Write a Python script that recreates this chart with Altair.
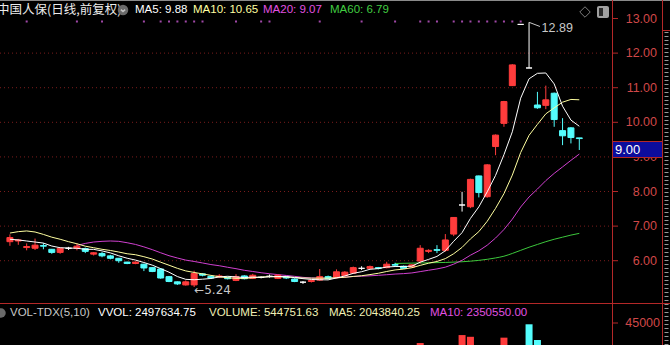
import altair as alt
import pandas as pd

# ---------------- data ----------------
STOCK_TITLE = "中国人保(日线,前复权)"
MA_LABELS = ["MA5: 9.88", "MA10: 10.65", "MA20: 9.07", "MA60: 6.79"]
VOL_LABELS = ["VOL-TDX(5,10)", "VVOL: 2497634.75", "VOLUME: 544751.63",
              "MA5: 2043840.25", "MA10: 2350550.00"]

OPEN = [6.55, 6.57, 6.38, 6.36, 6.44, 6.33, 6.24, 6.36, 6.36, 6.35,
        6.19, 6.21, 6.14, 6.07, 5.96, 5.92, 5.90, 5.80, 5.76, 5.54,
        5.39, 5.30, 5.30, 5.62, 5.55, 5.53, 5.52, 5.43, 5.56, 5.49,
        5.52, 5.55, 5.49, 5.53, 5.47, 5.38, 5.40, 5.44, 5.54, 5.51,
        5.57, 5.64, 5.78, 5.78, 5.80, 5.80, 5.89, 5.84, 5.82, 5.99,
        6.27, 6.32, 6.30, 6.77, 7.61, 7.56, 8.45, 7.85, 9.30, 9.97,
        11.06, 12.83, 11.57, 10.50, 10.49, 10.84, 9.76, 9.84, 9.55]
HIGH = [6.76, 6.63, 6.50, 6.64, 6.51, 6.34, 6.37, 6.40, 6.50, 6.38,
        6.25, 6.25, 6.17, 6.08, 5.97, 5.98, 5.91, 5.82, 5.78, 5.56,
        5.40, 5.43, 5.71, 5.64, 5.57, 5.61, 5.54, 5.61, 5.58, 5.62,
        5.55, 5.60, 5.60, 5.55, 5.49, 5.41, 5.45, 5.76, 5.57, 5.75,
        5.70, 5.83, 5.84, 5.86, 5.82, 5.97, 5.94, 5.86, 5.90, 6.45,
        6.33, 6.45, 6.77, 7.26, 7.99, 8.37, 8.46, 8.79, 9.65, 10.62,
        11.68, 12.83, 12.89, 10.88, 11.06, 10.86, 10.12, 9.86, 9.55]
LOW = [6.43, 6.46, 6.30, 6.31, 6.33, 6.20, 6.20, 6.31, 6.30, 6.22,
       6.15, 6.10, 6.04, 5.94, 5.90, 5.90, 5.70, 5.67, 5.48, 5.38,
       5.30, 5.28, 5.24, 5.55, 5.47, 5.50, 5.46, 5.41, 5.46, 5.47,
       5.49, 5.51, 5.47, 5.47, 5.38, 5.33, 5.37, 5.42, 5.46, 5.49,
       5.52, 5.62, 5.73, 5.76, 5.75, 5.78, 5.84, 5.76, 5.80, 5.92,
       6.22, 6.22, 6.26, 6.71, 7.42, 7.52, 7.83, 7.82, 9.05, 9.87,
       11.05, 12.83, 11.57, 10.39, 10.38, 9.87, 9.34, 9.39, 9.20]
CLOSE = [6.67, 6.60, 6.41, 6.45, 6.42, 6.24, 6.36, 6.36, 6.42, 6.27,
         6.23, 6.14, 6.07, 6.00, 5.92, 5.96, 5.79, 5.69, 5.50, 5.40,
         5.33, 5.39, 5.63, 5.58, 5.50, 5.56, 5.48, 5.54, 5.48, 5.58,
         5.52, 5.55, 5.58, 5.50, 5.40, 5.38, 5.43, 5.54, 5.48, 5.68,
         5.67, 5.80, 5.78, 5.83, 5.78, 5.90, 5.87, 5.78, 5.88, 6.36,
         6.30, 6.30, 6.60, 7.25, 7.61, 8.35, 7.97, 8.77, 9.63, 10.60,
         11.66, 12.83, 11.57, 10.42, 10.65, 10.08, 9.61, 9.56, 9.53]

# moving-average values at the left edge (history before the window)
MA5_LEAD = [6.62, 6.60, 6.57, 6.54]
MA10_LEAD = [6.80, 6.84, 6.86, 6.83, 6.76, 6.68, 6.62, 6.55, 6.49]
MA20_LEAD_FROM = 8
MA20_LEAD = [6.44, 6.50, 6.54, 6.56, 6.57, 6.56, 6.52, 6.47, 6.40, 6.32, 6.23]
MA60_IDX = [46, 48, 50, 52, 54, 56, 58, 59, 60, 61, 62, 63, 64, 65, 66, 67, 68]
MA60_VAL = [5.92, 5.93, 5.94, 5.95, 5.97, 6.01, 6.08, 6.13, 6.21, 6.30, 6.39,
            6.47, 6.55, 6.62, 6.68, 6.74, 6.79]

VOL_IDX = [49, 54, 55, 59, 62, 63]
VOL_VAL = [35700, 39400, 38600, 38200, 44400, 37100]

PRICE_TICKS = [13, 12, 11, 10, 9, 8, 7, 6]
GRID_TICKS = [12, 11, 10, 9, 8, 7, 6]
VOL_TICKS = [45000]
HIGH_MARK = 12.89
LOW_MARK = 5.24
SIGNAL_IDX = [2, 8, 11, 16, 18, 19, 20, 21, 22, 23, 27, 30, 31, 37, 42, 46,
              49, 50, 51, 53, 54, 55, 56, 57, 58, 59, 60, 61]
CURSOR_LABEL = "9.00"

# ---------------- layout / style ----------------
W, H = 670, 345
PANE_R = 612
STEP, X0 = 8.5, 5.0
FONT = "Liberation Sans, Noto Sans CJK SC, sans-serif"
CJK = "Noto Sans CJK SC, sans-serif"
UP, DOWN, FLAT = "#ff3c3c", "#54fcfc", "#ffffff"
AXIS_RED = "#b42828"
LABEL_RED = "#d04848"
GRID = "#7a1c1c"

xs = alt.Scale(domain=[-X0 / STEP, (W - X0) / STEP], range=[0, W], nice=False, zero=False)
ps = alt.Scale(domain=[3.564, 13.535], range=[H, 0], nice=False, zero=False)
vs = alt.Scale(domain=[34792, 194872], range=[H, 0], nice=False, zero=False)

n = len(CLOSE)


def pad(vals, start):
    return [None] * start + list(vals) + [None] * (n - start - len(vals))


df = pd.DataFrame({
    "i": list(range(n)), "o": OPEN, "h": HIGH, "l": LOW, "c": CLOSE,
    "ma5_lead": pad(MA5_LEAD, 0), "ma10_lead": pad(MA10_LEAD, 0),
    "ma20_lead": pad(MA20_LEAD, MA20_LEAD_FROM),
})

X = alt.X("i:Q", scale=xs, axis=None)
dir_scale = alt.Scale(domain=["up", "down", "flat"], range=[UP, DOWN, FLAT])

cbase = alt.Chart(df).transform_calculate(
    dir="datum.c > datum.o ? 'up' : (datum.c < datum.o ? 'down' : 'flat')"
)
wicks = cbase.mark_rule(strokeWidth=1).encode(
    x=X, y=alt.Y("l:Q", scale=ps, axis=None), y2="h:Q",
    color=alt.Color("dir:N", scale=dir_scale, legend=None))
bodies = cbase.mark_bar(size=6, strokeWidth=1).encode(
    x=X, y=alt.Y("o:Q", scale=ps, axis=None), y2="c:Q",
    fill=alt.Fill("dir:N", scale=dir_scale, legend=None),
    stroke=alt.Stroke("dir:N", scale=dir_scale, legend=None))

mabase = alt.Chart(df).transform_window(
    ma5w="mean(c)", frame=[-4, 0], sort=[alt.SortField("i")]
).transform_window(
    ma10w="mean(c)", frame=[-9, 0], sort=[alt.SortField("i")]
).transform_window(
    ma20w="mean(c)", frame=[-19, 0], sort=[alt.SortField("i")]
).transform_calculate(
    ma5="isValid(datum.ma5_lead) ? datum.ma5_lead : datum.ma5w",
    ma10="isValid(datum.ma10_lead) ? datum.ma10_lead : datum.ma10w",
    ma20="isValid(datum.ma20_lead) ? datum.ma20_lead : (datum.i >= 19 ? datum.ma20w : null)",
)
ma5 = mabase.mark_line(color="#ffffff", strokeWidth=1).encode(
    x=X, y=alt.Y("ma5:Q", scale=ps, axis=None))
ma10 = mabase.mark_line(color="#ffffa0", strokeWidth=1).encode(
    x=X, y=alt.Y("ma10:Q", scale=ps, axis=None))
ma20 = mabase.transform_filter("isValid(datum.ma20)").mark_line(
    color="#d040d0", strokeWidth=1).encode(x=X, y=alt.Y("ma20:Q", scale=ps, axis=None))
ma60 = alt.Chart(pd.DataFrame({"i": MA60_IDX, "v": MA60_VAL})).mark_line(
    color="#3cc83c", strokeWidth=1, interpolate="monotone").encode(
    x=X, y=alt.Y("v:Q", scale=ps, axis=None))

# volume bars colour: up/down, flat days compared with previous close
vdir = []
for k in VOL_IDX:
    if CLOSE[k] > OPEN[k] or (CLOSE[k] == OPEN[k] and CLOSE[k] >= CLOSE[k - 1]):
        vdir.append("up")
    else:
        vdir.append("down")
vol = alt.Chart(pd.DataFrame({"i": VOL_IDX, "v": VOL_VAL, "dir": vdir})).mark_bar(
    size=7).encode(x=X, y=alt.Y("v:Q", scale=vs, axis=None), y2=alt.value(H),
                   color=alt.Color("dir:N", scale=dir_scale, legend=None))

one = alt.Data(values=[{"t": ""}])


def hline(y, x1, x2, color, width=1, dash=None):
    kw = {"color": color, "strokeWidth": width}
    if dash:
        kw["strokeDash"] = dash
    return alt.Chart(one).mark_rule(**kw).encode(
        x=alt.value(x1), x2=alt.value(x2), y=alt.value(y))


def vline(x, y1, y2, color, width=1, dash=None):
    kw = {"color": color, "strokeWidth": width}
    if dash:
        kw["strokeDash"] = dash
    return alt.Chart(one).mark_rule(**kw).encode(
        x=alt.value(x), y=alt.value(y1), y2=alt.value(y2))


def txt(s, x, y, color, size=11.5, align="left", font=FONT):
    return alt.Chart(alt.Data(values=[{"t": s}])).mark_text(
        align=align, baseline="middle", font=font, fontSize=size, color=color
    ).encode(text="t:N", x=alt.value(x), y=alt.value(y))


ticks_df = pd.DataFrame({"p": PRICE_TICKS})
grid = alt.Chart(pd.DataFrame({"p": GRID_TICKS})).mark_rule(
    color=GRID, strokeWidth=1, strokeDash=[1, 3]).encode(
    y=alt.Y("p:Q", scale=ps, axis=None), x=alt.value(0), x2=alt.value(PANE_R))
tickmarks = alt.Chart(ticks_df).mark_rule(color=AXIS_RED, strokeWidth=1).encode(
    y=alt.Y("p:Q", scale=ps, axis=None), x=alt.value(PANE_R), x2=alt.value(PANE_R + 6))
ticklabels = alt.Chart(ticks_df).transform_calculate(
    lab="format(datum.p, '.2f')").mark_text(
    align="right", baseline="middle", font=FONT, fontSize=12.5, color=LABEL_RED).encode(
    y=alt.Y("p:Q", scale=ps, axis=None), x=alt.value(657), text="lab:N")

vt_df = pd.DataFrame({"v": VOL_TICKS})
vtick = alt.Chart(vt_df).mark_rule(color=AXIS_RED).encode(
    y=alt.Y("v:Q", scale=vs, axis=None), x=alt.value(PANE_R), x2=alt.value(PANE_R + 6))
vlabel = alt.Chart(vt_df).transform_calculate(lab="format(datum.v, 'd')").mark_text(
    align="right", baseline="middle", font=FONT, fontSize=12.5, color=LABEL_RED).encode(
    y=alt.Y("v:Q", scale=vs, axis=None), x=alt.value(660), text="lab:N")

signals = alt.Chart(pd.DataFrame({"i": SIGNAL_IDX})).mark_square(
    size=4, color="#a048a8", opacity=1).encode(x=X, y=alt.value(21.5))

# max / min annotations
hi_line = alt.Chart(alt.Data(values=[{"i": 62, "p": HIGH_MARK, "i2": 63.3, "p2": HIGH_MARK - 0.12}])
                    ).mark_rule(color="#c8c8c8").encode(
    x=alt.X("i:Q", scale=xs, axis=None), x2="i2:Q",
    y=alt.Y("p:Q", scale=ps, axis=None), y2="p2:Q")
hi_text = alt.Chart(alt.Data(values=[{"i": 63.5, "p": HIGH_MARK}])).transform_calculate(
    lab="format(datum.p, '.2f')").mark_text(
    align="left", baseline="middle", font=FONT, fontSize=12.5, color="#c8c8c8", dy=6).encode(
    x=alt.X("i:Q", scale=xs, axis=None), y=alt.Y("p:Q", scale=ps, axis=None), text="lab:N")
lo_text = alt.Chart(alt.Data(values=[{"i": 22, "p": LOW_MARK}])).transform_calculate(
    lab="'\u2190' + format(datum.p, '.2f')").mark_text(
    align="left", baseline="middle", font="DejaVu Sans, Liberation Sans", fontSize=12,
    color="#c8c8c8", dy=2.5).encode(
    x=alt.X("i:Q", scale=xs, axis=None), y=alt.Y("p:Q", scale=ps, axis=None), text="lab:N")

# cursor price box on the axis
cursor_box = alt.Chart(one).mark_rect(fill="#0c0c9c", stroke=AXIS_RED, strokeWidth=1).encode(
    x=alt.value(PANE_R + 0.5), x2=alt.value(662.5), y=alt.value(141.5), y2=alt.value(157.5))
cursor_txt = txt(CURSOR_LABEL, 615, 149.5, "#ffffff", size=13)

# icons
icon1 = alt.Chart(one).mark_circle(size=110, color="#6a6a6a", opacity=1).encode(
    x=alt.value(123), y=alt.value(10))
icon1b = alt.Chart(one).mark_point(shape="M-1,-0.4L0,0.5L1,-0.4", size=18, color="#e8e8e8",
                                   strokeWidth=1.5, filled=False).encode(
    x=alt.value(123), y=alt.value(10.5))
icon2 = alt.Chart(one).mark_circle(size=90, color="#6a6a6a", opacity=1).encode(
    x=alt.value(1), y=alt.value(313))
diamond = alt.Chart(one).mark_point(shape="diamond", size=110, color="#b4b4b4",
                                     strokeWidth=1, filled=False).encode(
    x=alt.value(585), y=alt.value(12))
sq_out = alt.Chart(one).mark_rect(fill="#a0a0a0", cornerRadius=2).encode(
    x=alt.value(597), x2=alt.value(609), y=alt.value(6), y2=alt.value(18))
sq_in = alt.Chart(one).mark_rect(fill="#2a2a2a").encode(
    x=alt.value(599), x2=alt.value(603), y=alt.value(8), y2=alt.value(16))

layers = [
    grid,
    hline(0.5, 0, W, "#8a8a8a"),
    ma60, ma20,
    wicks, bodies,
    ma10, ma5,
    signals,
    hi_line, hi_text, lo_text,
    vol,
    vline(PANE_R + 0.5, 0, H, AXIS_RED),
    vline(662.5, 0, H, AXIS_RED),
    hline(30.5, 662, W, AXIS_RED),
    vline(666.5, 32, H, "#9a9a9a", width=4, dash=[1, 3]),
    hline(303.5, 0, W, AXIS_RED),
    tickmarks, ticklabels,
    cursor_box, cursor_txt,
    vtick, vlabel,
    txt(STOCK_TITLE, -3, 10, "#ececec", size=12.5, font=CJK),
    icon1, icon1b,
    txt(MA_LABELS[0], 135, 10, "#ffffff"),
    txt(MA_LABELS[1], 193, 10, "#ffffa0"),
    txt(MA_LABELS[2], 263, 10, "#e050e0"),
    txt(MA_LABELS[3], 330, 10, "#40cc40"),
    diamond, sq_out, sq_in,
    icon2,
    txt(VOL_LABELS[0], 10, 313, "#c8c8c8"),
    txt(VOL_LABELS[1], 98, 313, "#ffffff"),
    txt(VOL_LABELS[2], 209, 313, "#f0f0b4"),
    txt(VOL_LABELS[3], 329, 313, "#f0f0b4"),
    txt(VOL_LABELS[4], 430, 313, "#e050e0"),
]

chart = alt.layer(*layers).resolve_scale(y="independent").properties(
    width=W, height=H, background="#000000", padding=0,
    autosize=alt.AutoSizeParams(type="none"),
).configure_view(stroke=None)

chart.save("out.html", embed_options={"renderer": "svg", "actions": False})
